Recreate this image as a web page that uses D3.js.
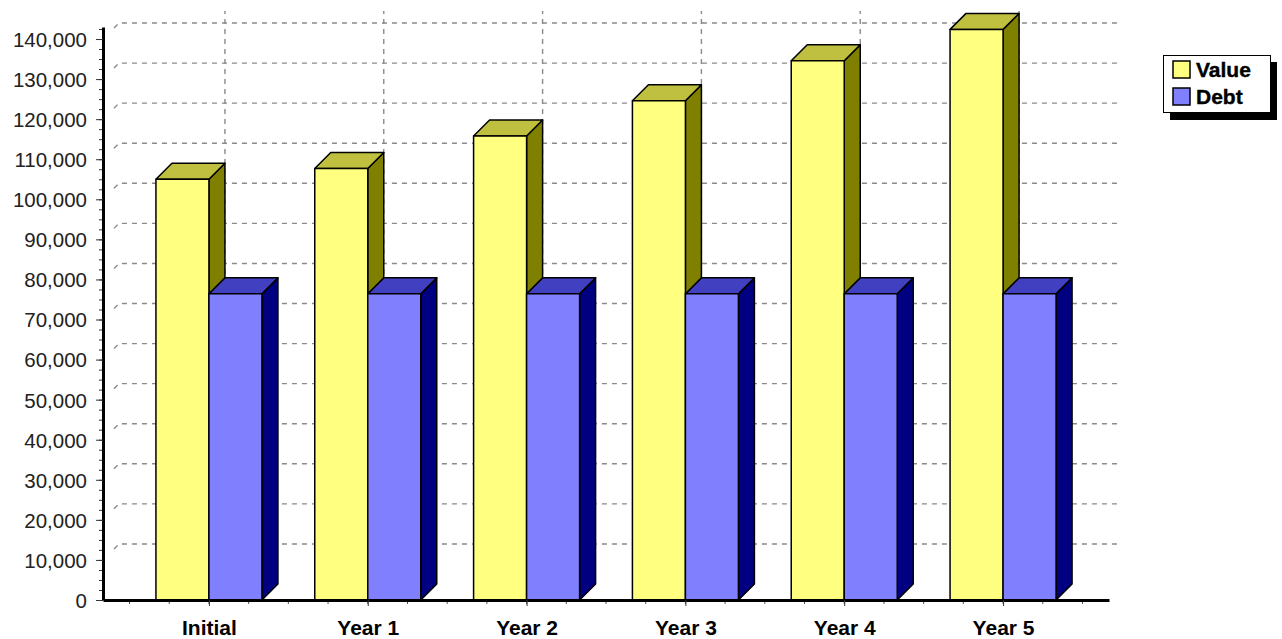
<!DOCTYPE html>
<html>
<head>
<meta charset="utf-8">
<script src="https://cdn.jsdelivr.net/npm/d3@7"></script>
<style>
	body { margin: 0; background: #fff; }
	svg { display: block; }
</style>
</head>
<body>
<svg id="chart"></svg>
<script>
'use strict';

// chart data
var categories = ['Initial', 'Year 1', 'Year 2', 'Year 3', 'Year 4', 'Year 5'];
var seriesNames = ['Value', 'Debt'];
var valueData = [105000, 107700, 115800, 124600, 134600, 142400];
var debtData = [76400, 76400, 76400, 76400, 76400, 76400];
var yTickValues = [0, 10000, 20000, 30000, 40000, 50000, 60000, 70000,
	80000, 90000, 100000, 110000, 120000, 130000, 140000];

var WIDTH = 1282,
	HEIGHT = 639,
	DEPTH = 16;

var AXIS_X = 103,
	AXIS_Y = 600,
	AXIS_TOP = 27,
	AXIS_RIGHT = 1109,
	GRID_RIGHT = 1122;

var faceColors = {
	Value: { front: '#ffff80', top: '#c0c040', side: '#808000' },
	Debt: { front: '#8080ff', top: '#4040c0', side: '#000080' }
};

var svg = d3.select('#chart')
	.attr('width', WIDTH)
	.attr('height', HEIGHT)
	.style('font-family', '"Liberation Sans", Arial, sans-serif');

var y = d3.scaleLinear()
	.domain([0, 143000])
	.range([AXIS_Y, AXIS_TOP]);

var x = d3.scalePoint()
	.domain(categories)
	.range([AXIS_X, AXIS_RIGHT])
	.padding(0.667);

var inner = d3.scaleBand()
	.domain(seriesNames)
	.range([-53, 53]);

// gridlines (back wall)
var grid = svg.append('g')
	.style('fill', 'none')
	.style('stroke', '#8a8a8a')
	.style('stroke-width', 1.4)
	.style('stroke-dasharray', '5,5');

grid.selectAll('.hgrid')
	.data(yTickValues.filter(function (d) { return d > 0; }))
	.enter()
	.append('path')
	.classed('hgrid', 1)
	.attr('d', function (d) {
		var yy = y(d);
		return ['M', AXIS_X + 11, yy - 11, 'L', AXIS_X + DEPTH, yy - DEPTH,
			'L', GRID_RIGHT, yy - DEPTH].join(' ');
	});

grid.selectAll('.vgrid')
	.data(categories)
	.enter()
	.append('line')
	.classed('vgrid', 1)
	.attr('x1', function (d) { return x(d) + DEPTH; })
	.attr('x2', function (d) { return x(d) + DEPTH; })
	.attr('y1', y(0) - DEPTH)
	.attr('y2', y(143000) - DEPTH);

// bars
var barRows = categories.map(function (c, i) {
	return [
		{ cat: c, name: 'Value', v: valueData[i] },
		{ cat: c, name: 'Debt', v: debtData[i] }
	];
});
var bars = [].concat.apply([], barRows);

var barG = svg.selectAll('.bar3d')
	.data(bars)
	.enter()
	.append('g')
	.classed('bar3d', 1)
	.style('stroke', '#000')
	.style('stroke-width', 1.5)
	.style('stroke-linejoin', 'round');

function barX0(d) { return x(d.cat) + inner(d.name); }
function barX1(d) { return barX0(d) + inner.bandwidth(); }

barG.append('path')
	.style('fill', function (d) { return faceColors[d.name].side; })
	.attr('d', function (d) {
		var x1 = barX1(d), y0 = y(0), yt = y(d.v);
		return ['M', x1, y0, 'L', x1 + DEPTH, y0 - DEPTH, 'L', x1 + DEPTH, yt - DEPTH,
			'L', x1, yt, 'Z'].join(' ');
	});

barG.append('path')
	.style('fill', function (d) { return faceColors[d.name].top; })
	.attr('d', function (d) {
		var x0 = barX0(d), x1 = barX1(d), yt = y(d.v);
		return ['M', x0, yt, 'L', x0 + DEPTH, yt - DEPTH, 'L', x1 + DEPTH, yt - DEPTH,
			'L', x1, yt, 'Z'].join(' ');
	});

barG.append('rect')
	.style('fill', function (d) { return faceColors[d.name].front; })
	.attr('x', barX0)
	.attr('y', function (d) { return y(d.v); })
	.attr('width', inner.bandwidth())
	.attr('height', function (d) { return y(0) - y(d.v); });

// y axis
var minorY = d3.range(0, 143000, 2500);

svg.append('g')
	.attr('transform', 'translate(' + AXIS_X + ',0)')
	.call(d3.axisLeft(y).tickValues(minorY).tickSize(4).tickSizeOuter(0).tickFormat(''))
	.call(function (g) { g.select('.domain').remove(); })
	.selectAll('line').style('stroke', '#333');

var yAxis = svg.append('g')
	.attr('transform', 'translate(' + AXIS_X + ',0)')
	.call(d3.axisLeft(y)
		.tickValues(yTickValues)
		.tickSize(7)
		.tickSizeOuter(0)
		.tickPadding(9)
		.tickFormat(d3.format(',')));

yAxis.select('.domain').style('stroke', '#000').style('stroke-width', 3);
yAxis.selectAll('.tick line').style('stroke', '#333');
yAxis.selectAll('text')
	.style('font-size', '20.5px')
	.style('fill', '#222')
	.attr('dy', '0.36em');

// x axis
var step = x.step() / 4;
var minorX = d3.range(x(categories[0]) - 2 * step, AXIS_RIGHT - 10, step);

svg.append('g')
	.attr('transform', 'translate(0,' + AXIS_Y + ')')
	.selectAll('line')
	.data(minorX)
	.enter()
	.append('line')
	.attr('x1', function (d) { return d; })
	.attr('x2', function (d) { return d; })
	.attr('y1', 0)
	.attr('y2', 4)
	.style('stroke', '#555');

var xAxis = svg.append('g')
	.attr('transform', 'translate(0,' + AXIS_Y + ')')
	.call(d3.axisBottom(x).tickSize(6).tickSizeOuter(0).tickPadding(14));

xAxis.select('.domain').style('stroke', '#000').style('stroke-width', 3);
xAxis.selectAll('.tick line').style('stroke', '#333');
xAxis.selectAll('text')
	.style('font-size', '21px')
	.style('font-weight', 'bold')
	.style('fill', '#000');

// legend
var legend = svg.append('g')
	.attr('transform', 'translate(1163,55)');

legend.append('rect')
	.attr('x', 7)
	.attr('y', 7)
	.attr('width', 107)
	.attr('height', 58)
	.style('fill', '#000');

legend.append('rect')
	.attr('x', 0.5)
	.attr('y', 0.5)
	.attr('width', 107)
	.attr('height', 57)
	.style('fill', '#fff')
	.style('stroke', '#000');

var items = legend.selectAll('.legend-item')
	.data(seriesNames)
	.enter()
	.append('g')
	.classed('legend-item', 1)
	.attr('transform', function (d, i) { return 'translate(10,' + (6 + i * 27) + ')'; });

items.append('rect')
	.attr('width', 17)
	.attr('height', 17)
	.style('fill', function (d) { return faceColors[d].front; })
	.style('stroke', '#000')
	.style('stroke-width', 1.5);

items.append('text')
	.attr('x', 23)
	.attr('y', 16)
	.style('font-size', '21px')
	.style('font-weight', 'bold')
	.style('fill', '#000')
	.style('stroke', '#000')
	.style('stroke-width', 0.4)
	.text(function (d) { return d; });
</script>
</body>
</html>
